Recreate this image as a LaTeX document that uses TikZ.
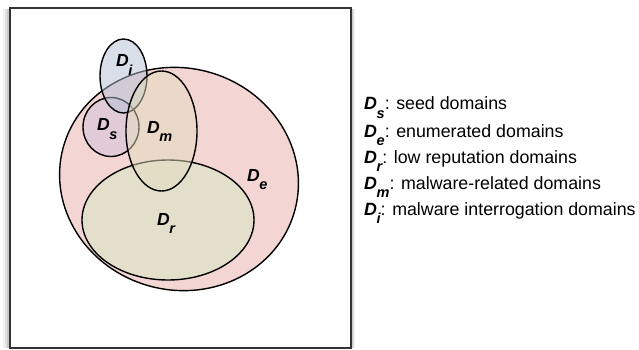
\documentclass[tikz,border=0pt]{standalone}
\usepackage{fontspec}
\setmainfont{Liberation Sans}
\usetikzlibrary{positioning}

\definecolor{eFill}{HTML}{E9ADA9}
\definecolor{rFill}{HTML}{D6EAC4}
\definecolor{sFill}{HTML}{D2C2E0}
\definecolor{iFill}{HTML}{B3C1D5}
\definecolor{mFill}{HTML}{E2DCBE}

\newcommand{\dname}[1]{\textbf{\textit{D\kern-.02em\raisebox{-.5em}{\fontsize{14.5}{14.5}\selectfont #1}}}}

\begin{document}
\begin{tikzpicture}[x=1pt,y=-1pt,
  settag/.style={font=\fontsize{17.5}{20}\selectfont, anchor=base west, inner sep=0pt},
  setline/.style={draw=black, line width=1.4pt, fill opacity=.5},
  keyrow/.style={font=\fontsize{17.8}{20}\selectfont, anchor=base west, inner sep=0pt}]

\useasboundingbox (0,0) rectangle (639,350);

% frame with a soft shadow
\foreach \s/\o in {7/.05,5/.07,3/.1}
  \fill[black, opacity=\o] (10-\s,9) rectangle (351+\s/2,348);
\filldraw[fill=white, draw=black!80, line width=1.3pt] (10,8) rectangle (351,348);

% the sets
\filldraw[setline, fill=eFill] (179,179) ellipse [x radius=120, y radius=111, rotate=-15];
\filldraw[setline, fill=rFill] (168,220) ellipse [x radius=86, y radius=60];
\filldraw[setline, fill=sFill] (111,127) ellipse [x radius=28, y radius=29.5];
\filldraw[setline, fill=iFill] (123.5,76) ellipse [x radius=23.5, y radius=37];
\filldraw[setline, fill=mFill] (161.5,131) ellipse [x radius=35.5, y radius=60];

\node[settag] (ti) at (116,67) {\dname{i}};
\node[settag] (ts) at (97,131) {\dname{s}};
\node[settag] (tm) at (147,133) {\dname{m}};
\node[settag] (te) at (247,181) {\dname{e}};
\node[settag] (tr) at (157,225) {\dname{r}};

% legend
\node[keyrow] (ks) at (364,110) {\dname{s}: seed domains};
\node[keyrow] (ke) at (364,137) {\dname{e}: enumerated domains};
\node[keyrow] (kr) at (364,163) {\dname{r}: low reputation domains};
\node[keyrow] (km) at (364,189) {\dname{m}: malware-related domains};
\node[keyrow] (ki) at (364,215) {\dname{i}: malware interrogation domains};
\end{tikzpicture}
\end{document}
